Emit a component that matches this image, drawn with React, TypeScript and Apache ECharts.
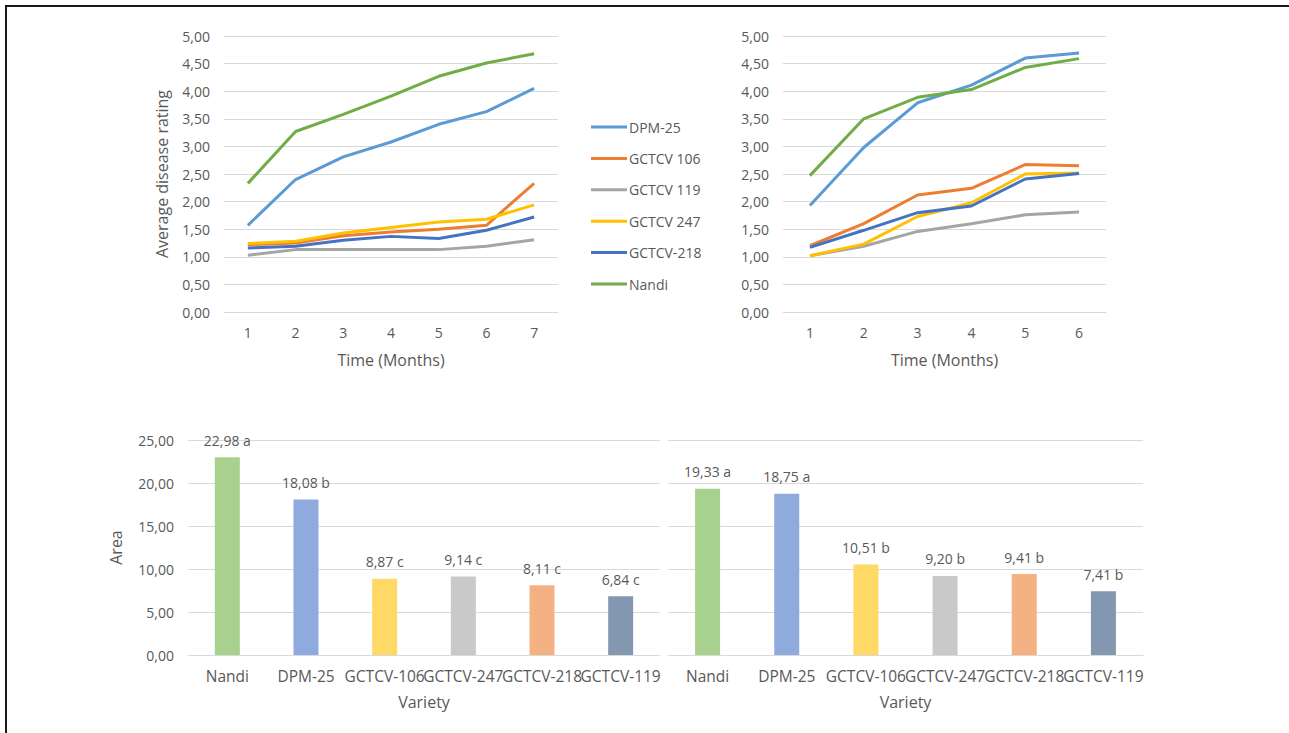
import React, { useEffect, useRef } from "react";
import * as echarts from "echarts";

const lineNames = ["DPM-25", "GCTCV 106", "GCTCV 119", "GCTCV 247", "GCTCV-218", "Nandi"];
const lineColors = ["#5B9BD5", "#ED7D31", "#A5A5A5", "#FFC000", "#4472C4", "#70AD47"];

const monthsA = ["1", "2", "3", "4", "5", "6", "7"];
const dpm25A = [1.57, 2.4, 2.81, 3.08, 3.4, 3.63, 4.05];
const g106A = [1.22, 1.25, 1.38, 1.45, 1.5, 1.57, 2.33];
const g119A = [1.03, 1.13, 1.13, 1.13, 1.13, 1.19, 1.31];
const g247A = [1.24, 1.28, 1.43, 1.53, 1.63, 1.68, 1.94];
const g218A = [1.16, 1.19, 1.3, 1.37, 1.33, 1.48, 1.72];
const nandiA = [2.33, 3.27, 3.58, 3.91, 4.27, 4.51, 4.68];

const monthsB = ["1", "2", "3", "4", "5", "6"];
const dpm25B = [1.93, 2.98, 3.79, 4.11, 4.6, 4.69];
const g106B = [1.2, 1.6, 2.12, 2.24, 2.67, 2.65];
const g119B = [1.02, 1.19, 1.46, 1.6, 1.76, 1.81];
const g247B = [1.02, 1.23, 1.73, 1.98, 2.5, 2.52];
const g218B = [1.17, 1.48, 1.8, 1.92, 2.41, 2.51];
const nandiB = [2.47, 3.5, 3.89, 4.03, 4.43, 4.59];

const varieties = ["Nandi", "DPM-25", "GCTCV-106", "GCTCV-247", "GCTCV-218", "GCTCV-119"];
const barColors = ["#A9D18E", "#8FAADC", "#FFD966", "#C9C9C9", "#F4B183", "#8497B0"];
const areaA = [22.98, 18.08, 8.87, 9.14, 8.11, 6.84];
const lettersA = ["a", "b", "c", "c", "c", "c"];
const areaB = [19.33, 18.75, 10.51, 9.2, 9.41, 7.41];
const lettersB = ["a", "a", "b", "b", "b", "b"];

const FONT = "Open Sans";
const TXT = "#595959";
const GRID = "#D9D9D9";
const fmt = (v: number) => v.toFixed(2).replace(".", ",");

export default function App() {
  const ref = useRef<HTMLDivElement>(null);
  useEffect(() => {
    if (!ref.current) return;
    const chart = echarts.init(ref.current, undefined, { renderer: "svg" });
    const seriesA = [dpm25A, g106A, g119A, g247A, g218A, nandiA];
    const seriesB = [dpm25B, g106B, g119B, g247B, g218B, nandiB];

    const catAxis = (gridIndex: number, data: string[], name: string, gap: number, fs: number) => ({
      type: "category",
      gridIndex,
      data,
      boundaryGap: true,
      name,
      nameLocation: "middle",
      nameGap: gap,
      nameTextStyle: { color: TXT, fontSize: 16, fontFamily: FONT },
      axisLine: { show: true, lineStyle: { color: GRID, width: 1 } },
      axisTick: { show: false },
      axisLabel: { color: TXT, fontSize: fs, fontFamily: FONT, margin: 13, interval: 0 },
    });
    const valAxis = (gridIndex: number, max: number, interval: number, showLabels: boolean, name: string, gap: number) => ({
      type: "value",
      gridIndex,
      min: 0,
      max,
      interval,
      name,
      nameLocation: "middle",
      nameGap: gap,
      nameRotate: 90,
      nameTextStyle: { color: TXT, fontSize: 16, fontFamily: FONT },
      axisLine: { show: false },
      axisTick: { show: false },
      axisLabel: { show: showLabels, color: TXT, fontSize: 14, fontFamily: FONT, margin: 14, formatter: fmt },
      splitLine: { show: true, lineStyle: { color: GRID, width: 1 } },
    });

    const lineSeries = (arrs: number[][], idx: number) =>
      arrs.map((d, i) => ({
        type: "line",
        name: lineNames[i],
        xAxisIndex: idx,
        yAxisIndex: idx,
        data: d,
        showSymbol: false,
        symbol: "none",
        lineStyle: { color: lineColors[i], width: 3 },
        itemStyle: { color: lineColors[i] },
        z: i === 4 ? 3 : 2,
      }));

    const barSeries = (vals: number[], letters: string[], idx: number) => ({
      type: "bar",
      name: "Area" + idx,
      xAxisIndex: idx,
      yAxisIndex: idx,
      barWidth: 25,
      data: vals.map((v, i) => ({ value: v, itemStyle: { color: barColors[i] } })),
      label: {
        show: true,
        position: "top",
        distance: 10,
        color: TXT,
        fontSize: 14,
        fontFamily: FONT,
        formatter: (p: any) => fmt(p.value) + " " + letters[p.dataIndex],
      },
    });

    chart.setOption({
      animation: false,
      backgroundColor: "#fff",
      graphic: [
        {
          type: "rect",
          shape: { x: 6, y: 6, width: 1400, height: 1000 },
          style: { fill: "none", stroke: "#1a1a1a", lineWidth: 2 },
          silent: true,
        },
      ],
      legend: {
        show: true,
        data: lineNames,
        orient: "vertical",
        left: 586,
        top: 115,
        icon: "rect",
        itemWidth: 36,
        itemHeight: 3,
        itemGap: 17.4,
        textStyle: { color: TXT, fontSize: 14, fontFamily: FONT, padding: [0, 0, 0, -3] },
        selectedMode: false,
      },
      grid: [
        { left: 224, width: 334, top: 36, height: 276 },
        { left: 783, width: 323, top: 36, height: 276 },
        { left: 188, width: 472, top: 440, height: 215 },
        { left: 668, width: 475, top: 440, height: 215 },
      ],
      xAxis: [
        catAxis(0, monthsA, "Time (Months)", 40, 14),
        catAxis(1, monthsB, "Time (Months)", 40, 14),
        catAxis(2, varieties, "Variety", 39, 15.5),
        catAxis(3, varieties, "Variety", 39, 15.5),
      ],
      yAxis: [
        valAxis(0, 5, 0.5, true, "Average disease rating", 54),
        valAxis(1, 5, 0.5, true, "", 50),
        valAxis(2, 25, 5, true, "Area", 64),
        valAxis(3, 25, 5, false, "", 50),
      ],
      series: [
        ...lineSeries(seriesA, 0),
        ...lineSeries(seriesB, 1),
        barSeries(areaA, lettersA, 2),
        barSeries(areaB, lettersB, 3),
      ],
    });
    return () => chart.dispose();
  }, []);
  return (
    <div
      ref={ref}
      style={{ position: "absolute", left: 0, top: 0, width: 1289, height: 733 }}
    />
  );
}
